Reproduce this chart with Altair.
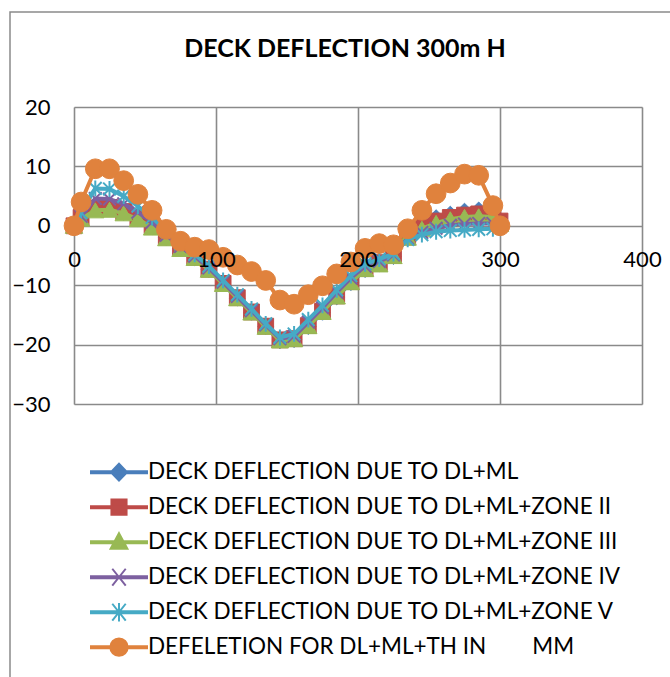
import altair as alt
import pandas as pd

# ---------------- data ----------------
x_m = [0, 5, 15, 25, 35, 45, 55, 65, 75, 85, 95, 105, 115, 125, 135, 145,
       155, 165, 175, 185, 195, 205, 215, 225, 235, 245, 255, 265, 275, 285, 295, 300]

dl_ml = [0, 1.0, 2.8, 2.9, 2.2, 1.2, -0.2, -2.0, -3.8, -5.4, -7.4, -9.8, -12.2, -14.6, -17.0, -19.4,
         -19.2, -17.0, -14.6, -12.0, -9.6, -7.4, -6.4, -5.2, -1.8, 0.6, 1.4, 2.0, 2.5, 2.7, 2.6, 0.2]
zone2 = [0, 1.4, 3.0, 3.1, 2.4, 1.4, 0.0, -1.9, -3.7, -5.3, -7.3, -9.7, -12.1, -14.5, -16.9, -19.2,
         -19.0, -16.8, -14.4, -11.8, -9.4, -7.2, -6.2, -5.0, -1.9, -0.2, 0.8, 1.4, 1.8, 2.0, 2.0, 0.8]
zone3 = [0, 1.2, 2.6, 2.7, 2.1, 1.1, -0.3, -2.1, -3.9, -5.4, -7.4, -9.8, -12.2, -14.6, -17.0, -19.3,
         -19.1, -16.9, -14.5, -11.9, -9.5, -7.3, -6.5, -5.1, -2.0, -0.5, 0.5, 1.1, 1.5, 1.6, 1.5, 0.3]
zone4 = [0, 1.6, 4.6, 4.5, 3.7, 2.3, 0.6, -1.6, -3.5, -5.1, -7.1, -9.5, -11.9, -14.3, -16.7, -19.0,
         -18.6, -16.2, -13.8, -11.2, -8.8, -6.8, -6.0, -4.9, -2.1, -1.1, -0.4, 0.1, 0.3, 0.4, 0.4, 0.0]
zone5 = [0, 2.2, 6.3, 6.2, 5.0, 3.3, 1.4, -0.9, -3.0, -4.8, -6.8, -9.2, -11.6, -14.0, -16.5, -18.8,
         -18.2, -15.8, -13.4, -10.8, -8.4, -6.4, -5.6, -4.7, -2.3, -1.5, -1.0, -0.8, -0.7, -0.6, -0.5, 0.0]
thermal = [0, 4.0, 9.6, 9.6, 7.6, 5.3, 2.6, -0.6, -2.6, -3.6, -4.0, -5.3, -6.6, -7.7, -9.2, -12.5,
           -13.2, -11.6, -10.1, -8.1, -6.1, -3.8, -3.0, -3.2, -0.5, 2.6, 5.4, 7.2, 8.7, 8.5, 3.4, 0.0]

NB = "\u00a0"
series_names = [
    "DECK DEFLECTION DUE TO DL+ML",
    "DECK DEFLECTION DUE TO DL+ML+ZONE II",
    "DECK DEFLECTION DUE TO DL+ML+ZONE III",
    "DECK DEFLECTION DUE TO DL+ML+ZONE IV",
    "DECK DEFLECTION DUE TO DL+ML+ZONE V",
    "DEFELETION FOR DL+ML+TH IN" + NB * 8 + "MM",
]
series_values = [dl_ml, zone2, zone3, zone4, zone5, thermal]
series_colors = ["#4A7EBB", "#BE4B48", "#98B954", "#7D60A0", "#46AAC5", "#E0823D"]

x_ticks = [0, 100, 200, 300, 400]
y_ticks = [-30, -20, -10, 0, 10, 20]
title_text = "DECK DEFLECTION 300m H"

# ---------------- styling ----------------
FONT = "Lato"
GRID = "#8A8A8A"
W, H = 568, 297

X_PATH = "M-1,-1L1,1M-1,1L1,-1"
STAR_PATH = "M-1,-1L1,1M-1,1L1,-1M0,-1.25L0,1.25"
plot_marks = [
    dict(shape="diamond", size=240, filled=True),
    dict(shape="square", size=250, filled=True),
    dict(shape="triangle-up", size=300, filled=True),
    dict(shape=X_PATH, size=160, filled=False),
    dict(shape=STAR_PATH, size=160, filled=False),
    dict(shape="circle", size=390, filled=True),
]

LINE = "M-1,-0.036L1,-0.036L1,0.036L-1,0.036Z"
legend_paths = [
    LINE + "M-0.29,0L0,-0.3L0.29,0L0,0.3Z",
    LINE + "M-0.27,-0.27L0.27,-0.27L0.27,0.27L-0.27,0.27Z",
    LINE + "M0,-0.32L0.3,0.24L-0.3,0.24Z",
    LINE + "M-0.24,-0.3L0.24,0.3M-0.24,0.3L0.24,-0.3",
    LINE + "M-0.24,-0.3L0.24,0.3M-0.24,0.3L0.24,-0.3M0,-0.33L0,0.33",
    LINE + "M-0.31,0A0.31,0.31 0 1,0 0.31,0A0.31,0.31 0 1,0 -0.31,0Z",
]

rows = []
for name, vals in zip(series_names, series_values):
    for xv, yv in zip(x_m, vals):
        rows.append({"series": name, "x": xv, "y": yv})
df = pd.DataFrame(rows)

x_scale = alt.Scale(domain=[0, 400], nice=False, zero=False)
y_scale = alt.Scale(domain=[-30, 20], nice=False, zero=False)

# grid-only x axis (under the marks)
x_grid_axis = alt.Axis(values=x_ticks, orient="bottom", grid=True, gridColor=GRID, gridWidth=1.6,
                       domain=False, ticks=False, labels=False, title=None, zindex=0)
# label-only x axis crossing at y = 0, drawn above the marks
x_label_axis = alt.Axis(values=x_ticks, orient="bottom", grid=False, domain=False, ticks=False,
                        labelFont=FONT, labelFontSize=22, labelColor="black", labelPadding=23,
                        offset=-178, title=None, labelFlush=False, zindex=1)
y_axis = alt.Axis(values=y_ticks, grid=True, gridColor=GRID, gridWidth=1.6, domain=False,
                  ticks=False, labelFont=FONT, labelFontSize=22, labelColor="black",
                  labelPadding=24, title=None)

enc_y = alt.Y("y:Q", scale=y_scale, axis=y_axis)
enc_x_none = alt.X("x:Q", scale=x_scale, axis=None)

base = alt.Chart(df)

layers = []
# border around the whole chart (decoration)
border = alt.Chart(pd.DataFrame({"a": [0]})).mark_rect(
    fill="white", fillOpacity=0, stroke=GRID, strokeWidth=1.5
).encode(x=alt.value(-64), x2=alt.value(700), y=alt.value(-95), y2=alt.value(700))
layers.append(border)

for i, (name, col, pm) in enumerate(zip(series_names, series_colors, plot_marks)):
    sub = base.transform_filter(alt.datum.series == name)
    ex = alt.X("x:Q", scale=x_scale, axis=x_grid_axis) if i == 0 else enc_x_none
    line = sub.mark_line(color=col, strokeWidth=4, strokeJoin="round", strokeCap="round").encode(
        x=ex, y=enc_y)
    if pm["filled"]:
        pts = sub.mark_point(shape=pm["shape"], size=pm["size"], filled=True, fill=col,
                             stroke=col, strokeWidth=1, opacity=1).encode(x=enc_x_none, y=enc_y)
    else:
        pts = sub.mark_point(shape=pm["shape"], size=pm["size"], filled=False, stroke=col,
                             strokeWidth=2, opacity=1).encode(x=enc_x_none, y=enc_y)
    layers += [line, pts]

# legend-only layer (no marks drawn: data filtered out, scale domain explicit)
legend = alt.Legend(title=None, orient="none", legendX=16, legendY=348, direction="vertical",
                    symbolSize=3136, symbolStrokeWidth=2, clipHeight=34.3, rowPadding=0,
                    padding=0, labelFont=FONT, labelFontSize=22.5, labelColor="black",
                    labelLimit=0, labelOffset=0, symbolOpacity=1)
leg_layer = base.transform_filter("datum.x < -1000").mark_point(filled=True, opacity=1).encode(
    x=alt.X("x:Q", scale=x_scale, axis=x_label_axis),
    y=enc_y,
    fill=alt.Fill("series:N", scale=alt.Scale(domain=series_names, range=series_colors), legend=legend),
    stroke=alt.Stroke("series:N", scale=alt.Scale(domain=series_names, range=series_colors), legend=legend),
    shape=alt.Shape("series:N", scale=alt.Scale(domain=series_names, range=legend_paths), legend=legend),
)
layers.append(leg_layer)

chart = alt.layer(*layers).resolve_axis(x="independent").properties(
    width=W, height=H,
    title=alt.TitleParams(title_text, font=FONT, fontSize=25, fontWeight="bold", color="black",
                          anchor="middle", offset=0, dx=-13, dy=51),
    autosize=alt.AutoSizeParams(type="none"),
    padding={"left": 74, "top": 107, "right": 28, "bottom": 273},
).configure_view(strokeOpacity=0, strokeWidth=0).configure(background="white")

chart.save("out.html", embed_options={"renderer": "svg", "actions": False})
